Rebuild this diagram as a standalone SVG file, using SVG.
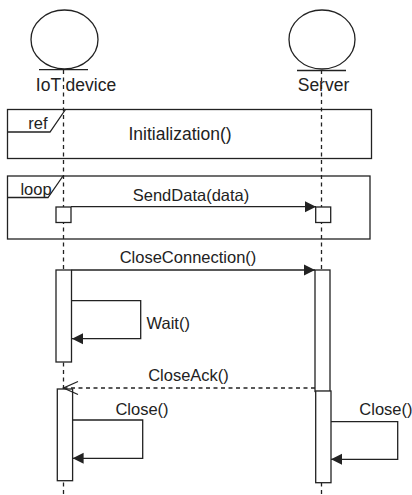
<svg xmlns="http://www.w3.org/2000/svg" width="412" height="495" viewBox="0 0 412 495">
<style>
.ln{fill:none;stroke:#222;stroke-width:1.3}
.box{fill:#fff;stroke:#222;stroke-width:1.3}
.dash{fill:none;stroke:#222;stroke-width:1.3;stroke-dasharray:4 3.5}
text{font-family:"Liberation Sans",Arial,sans-serif;font-size:16.5px;fill:#222}
.big{font-size:17.5px}
</style>
<defs>
<marker id="ah" markerWidth="12" markerHeight="12" viewBox="0 0 12 12" refX="11" refY="6" orient="auto" markerUnits="userSpaceOnUse">
<path d="M0,0.5 L11,6 L0,11.5 Z" fill="#222"/>
</marker>
</defs>
<rect width="412" height="495" fill="#fff"/>
<g id="lifelines">
<line class="dash" x1="63.5" y1="70" x2="63.5" y2="495"/>
<line class="dash" x1="321.5" y1="70" x2="321.5" y2="495"/>
</g>
<g id="iot-device">
<ellipse class="ln" cx="64.5" cy="39.5" rx="33.5" ry="29.5"/>
<line class="ln" x1="39" y1="69.7" x2="88" y2="69.7"/>
<text class="big" x="76" y="91" text-anchor="middle">IoT device</text>
</g>
<g id="server">
<ellipse class="ln" cx="322" cy="39.5" rx="33" ry="29.5"/>
<line class="ln" x1="297" y1="70.5" x2="346" y2="70.5"/>
<text class="big" x="323.5" y="91" text-anchor="middle">Server</text>
</g>
<g id="ref-initialization">
<rect class="ln" x="7.5" y="109.5" width="364" height="49"/>
<path class="ln" d="M7.5,132 H50 L65.5,109.5"/>
<text x="38" y="129" text-anchor="middle">ref</text>
<text class="big" x="180" y="140" text-anchor="middle">Initialization()</text>
</g>
<g id="loop">
<rect class="ln" x="7.5" y="176" width="362.5" height="63"/>
<path class="ln" d="M7.5,197.5 H48 L63,176"/>
<text x="36" y="195" text-anchor="middle">loop</text>
</g>
<g id="activations">
<rect class="box" x="56" y="207" width="15" height="15.5"/>
<rect class="box" x="315.7" y="207" width="15" height="15.5"/>
<rect class="box" x="56" y="270" width="15.5" height="92"/>
<rect class="box" x="315" y="270" width="15" height="121.5"/>
<rect class="box" x="57.3" y="389" width="15.3" height="91.7"/>
<rect class="box" x="315.7" y="391" width="15.3" height="91.7"/>
</g>
<g id="connectors">
<line class="ln" x1="71" y1="206.7" x2="316" y2="206.7" marker-end="url(#ah)"/>
<text x="191" y="201" text-anchor="middle">SendData(data)</text>
<line class="ln" x1="71.5" y1="270" x2="315" y2="270" marker-end="url(#ah)"/>
<text x="188" y="263" text-anchor="middle">CloseConnection()</text>
<path class="ln" d="M72,300.7 H140.7 V338.7 H72" marker-end="url(#ah)"/>
<text x="146.5" y="329">Wait()</text>
<line class="dash" x1="315" y1="388" x2="64" y2="388"/>
<path class="ln" d="M78,381.5 L63.5,388 L78,394.5"/>
<text x="188.5" y="381" text-anchor="middle">CloseAck()</text>
<path class="ln" d="M72.6,420 H142.7 V458.3 H72.6" marker-end="url(#ah)"/>
<text x="142" y="415" text-anchor="middle">Close()</text>
<path class="ln" d="M331,421.7 H397.7 V459.3 H331" marker-end="url(#ah)"/>
<text x="359.3" y="415">Close()</text>
</g>
</svg>
